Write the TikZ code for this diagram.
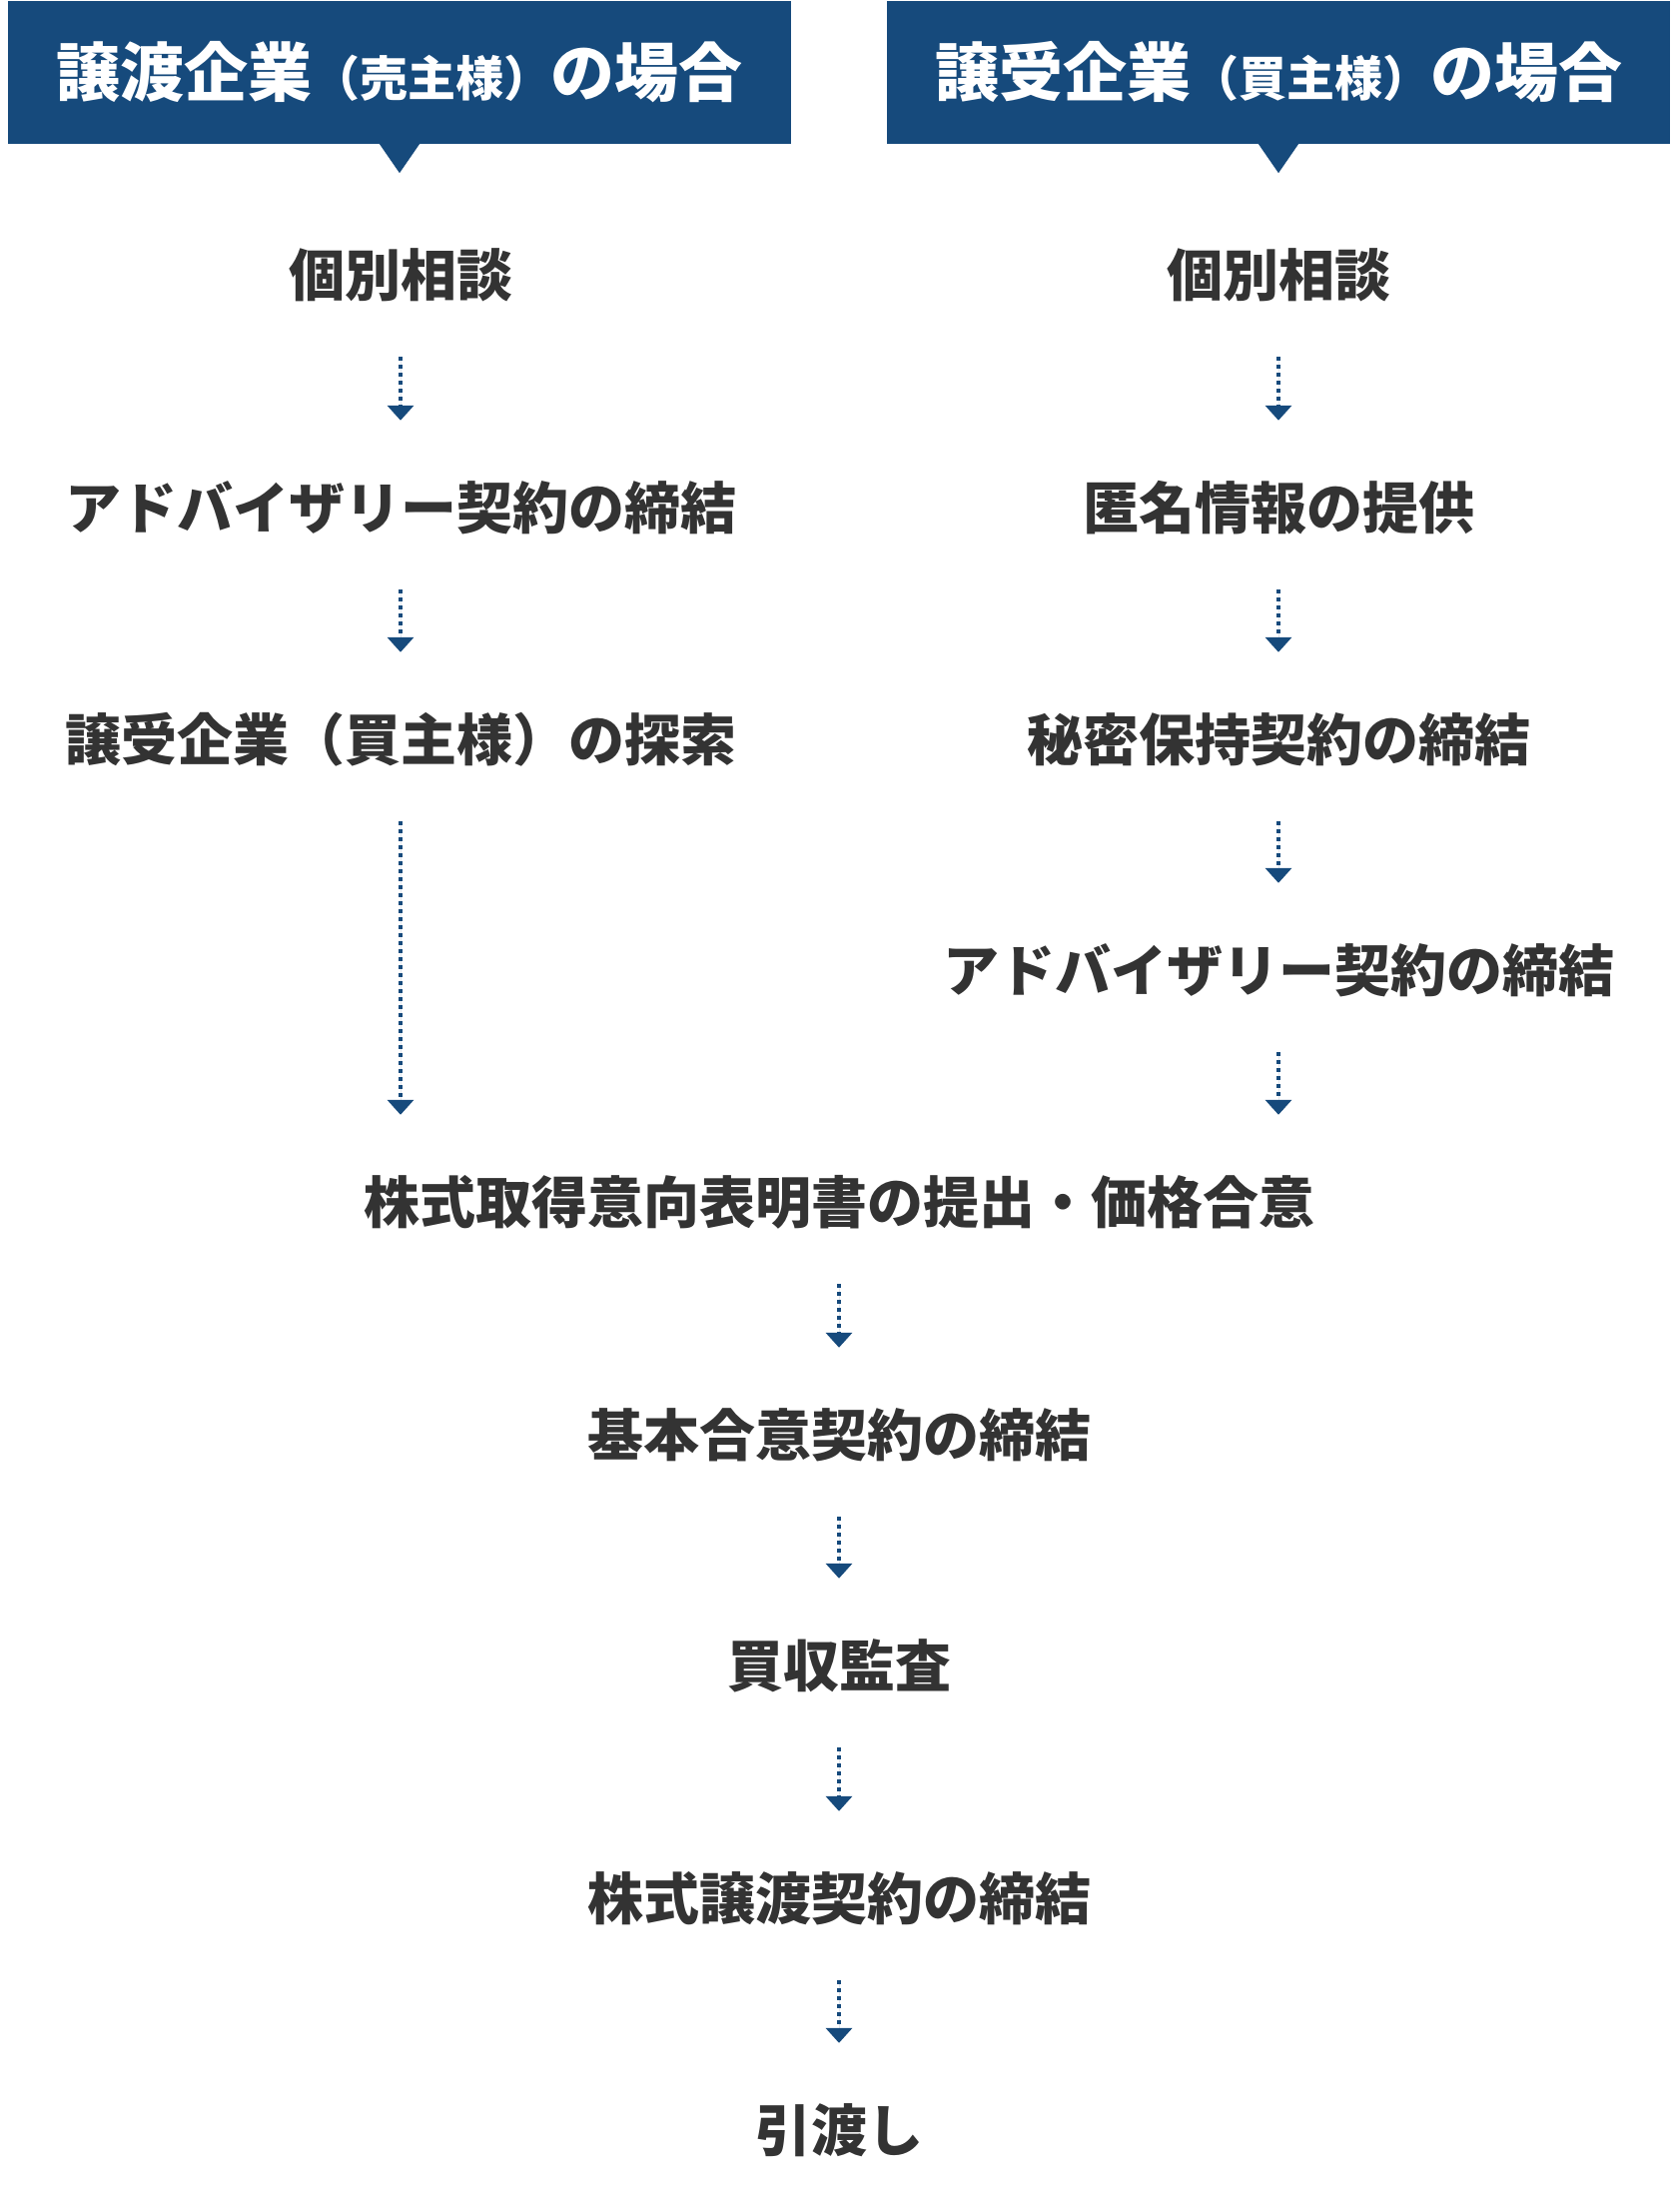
\documentclass[tikz,border=0pt]{standalone}
\usepackage{fontspec}
\setmainfont{Noto Sans CJK JP}
\usetikzlibrary{arrows.meta}

\definecolor{hdblue}{HTML}{164A7C}
\definecolor{txtgray}{HTML}{333333}

\begin{document}
\begin{tikzpicture}[x=1pt,y=-1pt,
    >={Triangle[width=26pt,length=15pt]},
    hdbox/.style={fill=hdblue,text=white,inner sep=0pt,
      minimum width=784pt,minimum height=143pt,
      font=\bfseries\fontsize{64}{70}\selectfont},
    stage/.style={text=txtgray,inner sep=0pt,
      text height=45pt,text depth=3pt,
      font=\bfseries\fontsize{56}{60}\selectfont},
    flow/.style={->,draw=hdblue,fill=hdblue,line width=4pt,
      dash pattern=on 4pt off 4pt,shorten <=58pt,shorten >=63pt}]
    \useasboundingbox (0,0) rectangle (1680,2214);

    % Column headers with their pointers.
    \node[hdbox] (hl) at (400,72.5)
      {譲渡企業{\fontsize{48}{50}\selectfont（売主様）}の場合};
    \node[hdbox] (hr) at (1280,72.5)
      {譲受企業{\fontsize{48}{50}\selectfont（買主様）}の場合};
    \fill[hdblue] ([xshift=-20pt]hl.south) -- ([xshift=20pt]hl.south)
      -- ([yshift=-29pt]hl.south) -- cycle;
    \fill[hdblue] ([xshift=-20pt]hr.south) -- ([xshift=20pt]hr.south)
      -- ([yshift=-29pt]hr.south) -- cycle;

    % Seller side.
    \node[stage] (l1) at (401,275) {個別相談};
    \node[stage] (l2) at (401,508) {アドバイザリー契約の締結};
    \node[stage] (l3) at (401,740) {譲受企業（買主様）の探索};

    % Buyer side.
    \node[stage] (r1) at (1280,275) {個別相談};
    \node[stage] (r2) at (1280,508) {匿名情報の提供};
    \node[stage] (r3) at (1280,740) {秘密保持契約の締結};
    \node[stage] (r4) at (1280,971) {アドバイザリー契約の締結};

    % Common steps.
    \node[stage] (m1) at (840,1203) {株式取得意向表明書の提出・価格合意};
    \node[stage] (m2) at (840,1436) {基本合意契約の締結};
    \node[stage] (m3) at (840,1667) {買収監査};
    \node[stage] (m4) at (840,1900) {株式譲渡契約の締結};
    \node[stage] (m5) at (840,2132) {引渡し};

    \draw[flow] (l1) -- (l2);
    \draw[flow] (l2) -- (l3);
    \draw[flow] (l3) -- (l3 |- m1.north);
    \draw[flow] (r1) -- (r2);
    \draw[flow] (r2) -- (r3);
    \draw[flow] (r3) -- (r4);
    \draw[flow] (r4) -- (r4 |- m1.north);
    \draw[flow] (m1) -- (m2);
    \draw[flow] (m2) -- (m3);
    \draw[flow] (m3) -- (m4);
    \draw[flow] (m4) -- (m5);
\end{tikzpicture}
\end{document}
